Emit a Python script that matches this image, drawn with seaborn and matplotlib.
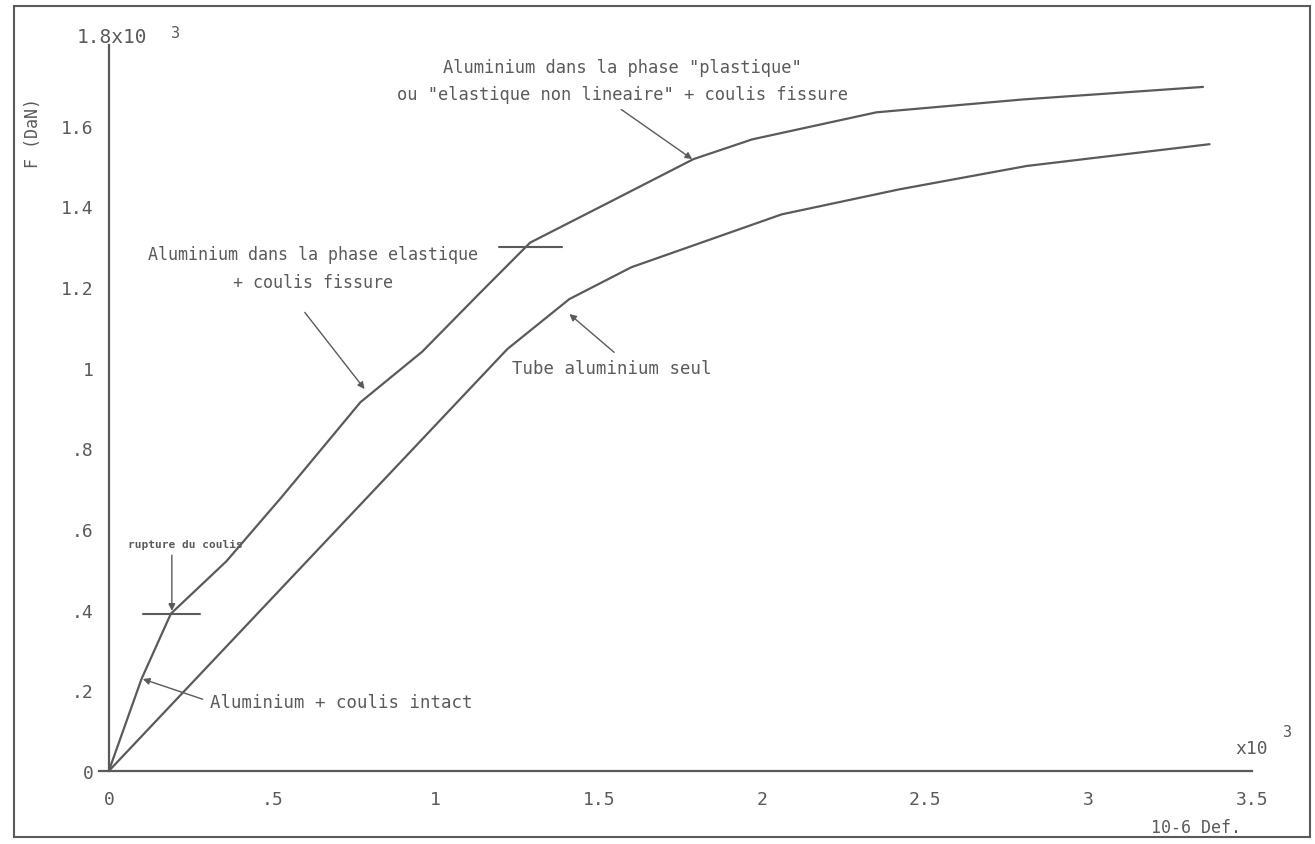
import matplotlib
matplotlib.use("Agg")
import matplotlib.pyplot as plt
import seaborn as sns
import pandas as pd
from matplotlib.patches import Rectangle

# courbe du haut : aluminium + coulis
upper_x = [0, 0.10, 0.19, 0.36, 0.53, 0.77, 0.96, 1.13, 1.29, 1.52, 1.79, 1.97, 2.35, 2.80, 3.35]
upper_y = [0, 0.228, 0.39, 0.52, 0.68, 0.914, 1.04, 1.18, 1.31, 1.405, 1.517, 1.566, 1.633, 1.665, 1.696]

# courbe du bas : tube aluminium seul
lower_x = [0, 1.22, 1.41, 1.60, 2.06, 2.42, 2.81, 3.37]
lower_y = [0, 1.046, 1.17, 1.249, 1.38, 1.442, 1.50, 1.554]

x_ticks = [0, 0.5, 1, 1.5, 2, 2.5, 3, 3.5]
x_labels = ["0", ".5", "1", "1.5", "2", "2.5", "3", "3.5"]
y_ticks = [0, 0.2, 0.4, 0.6, 0.8, 1.0, 1.2, 1.4, 1.6, 1.8]
y_labels = ["0", ".2", ".4", ".6", ".8", "1", "1.2", "1.4", "1.6", ""]

df = pd.concat([
    pd.DataFrame({"def": upper_x, "F": upper_y, "serie": "coulis"}),
    pd.DataFrame({"def": lower_x, "F": lower_y, "serie": "seul"}),
])

GREY = "#5a5a5a"
MONO = "DejaVu Sans Mono"

sns.set_style("white")
plt.rcParams["font.family"] = [MONO]

fig = plt.figure(figsize=(13.15, 8.45), dpi=100)
ax = fig.add_axes([0.0753, 0.0864, 0.8768, 0.8592])

sns.lineplot(data=df, x="def", y="F", units="serie", estimator=None, sort=False,
             color=GREY, lw=1.6, ax=ax, legend=False)

ax.set_xlim(-0.03, 3.5)
ax.set_ylim(0, 1.8)
ax.spines["left"].set_position(("data", 0))
ax.spines[["top", "right"]].set_visible(False)
for s in ["left", "bottom"]:
    ax.spines[s].set_color(GREY)
    ax.spines[s].set_linewidth(1.6)

ax.set_xticks(x_ticks, x_labels)
ax.set_yticks(y_ticks, y_labels)
ax.tick_params(axis="y", direction="inout", length=18, width=1.3, colors=GREY,
               labelsize=13, pad=2)
ax.tick_params(axis="x", direction="inout", length=16, width=1.0, colors=GREY,
               labelsize=13, pad=6)
ax.set_xlabel("")
ax.set_ylabel("")

# libellés d'axes
ax.text(-0.098, 1.797, "1.8x10", fontsize=14, color=GREY, va="bottom", ha="left", clip_on=False)
ax.text(0.19, 1.831, "3", fontsize=11, color=GREY, va="center", ha="left", clip_on=False)
ax.text(3.50, 0.035, "x10", fontsize=13, color=GREY, ha="center", va="bottom", clip_on=False)
ax.text(3.61, 0.08, "3", fontsize=11, color=GREY, ha="center", va="bottom", clip_on=False)
ax.text(3.327, -0.139, "10-6 Def.", fontsize=12, color=GREY, ha="center", va="center", clip_on=False)
fig.text(33 / 1315, 1 - 133 / 845, "F (DaN)", rotation=90, fontsize=12, color=GREY,
         ha="center", va="center")

# repères horizontaux
ax.plot([0.105, 0.278], [0.389, 0.389], color=GREY, lw=1.5)
ax.plot([1.196, 1.388], [1.299, 1.299], color=GREY, lw=1.5)

arrow = dict(arrowstyle="-|>", color=GREY, lw=1.0, mutation_scale=10, shrinkA=0, shrinkB=0)

ax.annotate("rupture du coulis", xy=(0.193, 0.397), xytext=(0.06, 0.563), fontsize=8,
            color=GREY, fontweight="bold", va="center", ha="left")
ax.annotate("", xy=(0.193, 0.397), xytext=(0.193, 0.535), arrowprops=arrow)

ax.annotate("Aluminium + coulis intact", xy=(0.104, 0.228), xytext=(0.31, 0.171),
            fontsize=12.5, color=GREY, va="center", ha="left")
ax.annotate("", xy=(0.104, 0.228), xytext=(0.287, 0.178), arrowprops=arrow)

ax.text(0.624, 1.247, "Aluminium dans la phase elastique\n+ coulis fissure", fontsize=12,
        color=GREY, ha="center", va="center", linespacing=1.7)
ax.annotate("", xy=(0.783, 0.947), xytext=(0.60, 1.137), arrowprops=arrow)

ax.text(1.235, 1.0, "Tube aluminium seul", fontsize=12.5, color=GREY, ha="left", va="center")
ax.annotate("", xy=(1.41, 1.133), xytext=(1.547, 1.038), arrowprops=arrow)

ax.text(1.572, 1.712, "Aluminium dans la phase \"plastique\"\nou \"elastique non lineaire\" + coulis fissure",
        fontsize=12.3, color=GREY, ha="center", va="center", linespacing=1.7)
ax.annotate("", xy=(1.786, 1.517), xytext=(1.569, 1.64), arrowprops=arrow)

# cadre extérieur
fig.patches.append(Rectangle((0.011, 0.008), 0.985, 0.984, transform=fig.transFigure,
                             fill=False, edgecolor=GREY, lw=1.5))

fig.savefig("out.png", dpi=100, facecolor="white")
